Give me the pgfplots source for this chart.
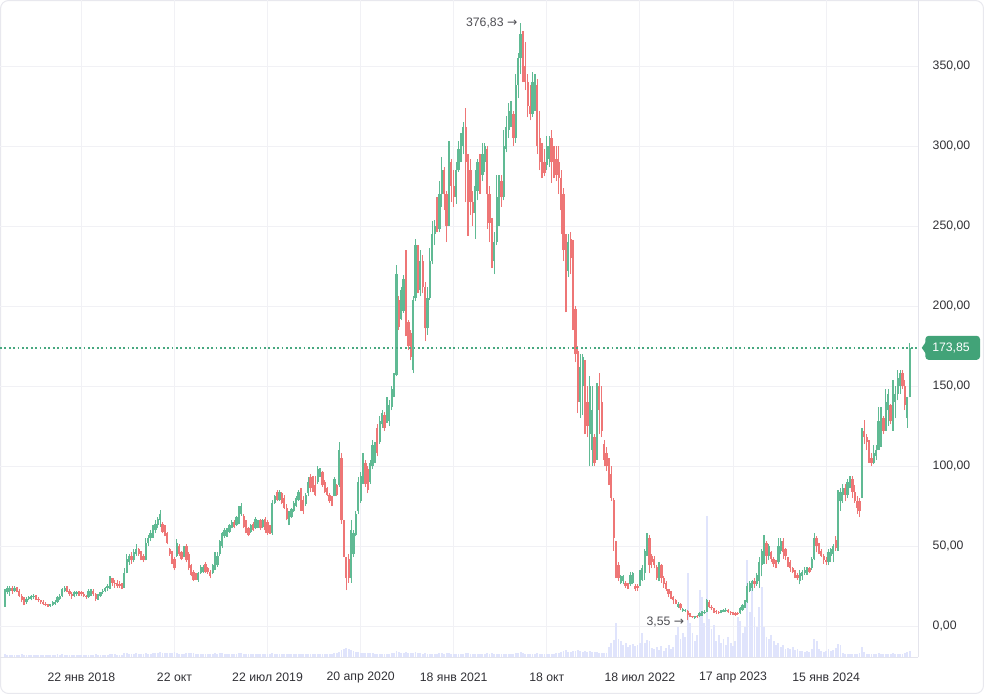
\documentclass[border=0pt]{standalone}
\usepackage{fontspec}
\setmainfont{Liberation Sans}
\newfontfamily\dejavu{DejaVu Sans}
\usepackage{pgfplots}
\usepackage{pgfplotstable}
\pgfplotsset{compat=1.18}
\definecolor{cg}{RGB}{96,186,148}
\definecolor{cr}{RGB}{238,118,118}
\definecolor{dotc}{RGB}{72,168,128}
\definecolor{gridc}{RGB}{241,241,245}
\definecolor{axc}{RGB}{228,228,236}
\definecolor{volc}{RGB}{224,228,252}
\definecolor{boxg}{RGB}{66,163,120}
\definecolor{txt}{RGB}{50,50,55}
\definecolor{annot}{RGB}{80,80,85}
\definecolor{frame}{RGB}{232,232,238}

\pgfplotstableread{
w o h l c v
0 12.5 23 12 22 3
1 21 25 20 24 2
2 22 25 19 24 2
3 24 25 20 22 2
4 22 25 21 24 2
5 24 24.5 21 22 2
6 22 23 18 19 2
7 19 20 15 16 3
8 17 18 13 15 2
9 15 18 14 17 2
10 17 19 16 18 2
11 17 19.5 16 19 2
12 18 20 17 19 2
13 19 19.5 16 17 2
14 17 18 15 16 2
15 16 16.5 14 15 2
16 15 16 13 14 2
17 14 15 12.5 13.5 2
18 13.5 14 12 13 2
19 12.5 14 12 13.5 2
20 13 15.5 12.5 15 2
21 14 16 13 15 2
22 15 19 14.5 18 3
23 17 20 16 19 2
24 19 24 18 23 3
25 22 25 21 24 2
26 24 25 21 22 2
27 22 23 19 20 2
28 20 21 17 19 2
29 19 22 18 21 2
30 20 22 19 21 2
31 21 22 19 20 2
32 21 22 19 20 2
33 20 21 18 19 2
34 19 19.5 17 18 2
35 18 23 17.5 22 2
36 21 23 19 22 2
37 22 23 19 20 2
38 20 20.5 15.5 17 3
39 17 20 16.5 19 2
40 19 21.5 18 21 2
41 21 23 20 22 2
42 22 24.5 21 24 2
43 24 26 22 25 2
44 24 31 23 30 3
45 30 30 25 27 3
46 27 29 24 26 3
47 27 29 24 25 2
48 26 28 24 25 2
49 26 27 23 24 2
50 24 36 24 33 4
51 33 45 33 42 4
52 40 45 38 44 3
53 44 46 39 41 3
54 41 48 40 46 3
55 45 51 44 48 4
56 48 49 44 45 3
57 46 47 41 43 3
58 44 45 40 41 3
59 41 55 41 52 4
60 52 57 50 55 3
61 55 60 53 58 3
62 57 63 55 61 4
63 60 66 58 64 4
64 63 68 61 67 4
65 66 72.5 62 70 5
66 64 65 58 59 4
67 62 63 56 57 4
68 58 59 51 52 4
69 48 49 44 45 4
70 46 47 39 40 4
71 42 43 35 36 5
72 44 54.5 43 52 4
73 50 51 44 45 3
74 46 47 41 42 3
75 44 50 43 49 3
76 50 51 40 41 4
77 45 46 35 36 4
78 38 39 31 32 4
79 34 35 28 29 4
80 32 33 28.5 30 3
81 29 34 27.7 33 3
82 33 38 32.5 37 3
83 34 38 33 37 3
84 39 40 33 34 3
85 36 37 32.5 33.5 3
86 34 35 29.8 31 3
87 33 39 32.5 38 3
88 36 46 35 45 4
89 38 46 37 44 3
90 45 54 44 53 4
91 50 59 49 58 4
92 56 61 55 60 3
93 56 61 55.5 60 3
94 59 64 58 63 3
95 61 66 61 65 3
96 65 66 61 62 3
97 63 69 62.5 68 3
98 64 75 63.5 73 4
99 70 77 69 75 4
100 69 70 61 62 3
101 65 66 58 59 3
102 61 62 56 57 3
103 59 64 58 63 3
104 64 65 59.5 60 3
105 61 68 60.5 67 3
106 62 66 61 65 3
107 66 67 60 61 3
108 62 67 61 66 3
109 67 68 58 60 3
110 65 66 57 58 3
111 62 63 57.5 58 3
112 58 79 57 77 4
113 77 82 76.5 81 3
114 84 85 78 79 3
115 79 85 78 84 3
116 83 84 76 77 3
117 80 82 73 74 3
118 74 76 66 67 3
119 64 72 63 71 3
120 68 74 67.5 73 3
121 72 78 71.5 77 3
122 75 81 74.6 80 3
123 79 85 78 84 3
124 84 86 72 74 3
125 79 81 70 72 3
126 76 83 75 82 3
127 83 93 81 90 3
128 93 95 84 86 3
129 92 94 84 86 3
130 88 94 81 82 3
131 90 100 89 98 3
132 94 98.5 93 97 3
133 96 97 87 88 3
134 90 91 83 84 3
135 86 87 81 82 3
136 82 83 77 78 3
137 80 81 75 76 3
138 81 93 81 92 4
139 88 89 81 82 4
140 88 115 87 110 5
141 105 108 64 66 7
142 66 66 43 45 8
143 43 43 22.5 30 9
144 42 45 27 30 8
145 30 66 27 60 7
146 45 60 43 58 6
147 57 72 56 70 5
148 72 93 70 90 5
149 78 96 77 94 4
150 90 108 89 106 4
151 102 104 87 89 4
152 98 100 83 85 4
153 90 104 89 102 4
154 100 116 98 113 4
155 104 115 102 112 3
156 124 126 106 108 3
157 115 131 114 128 3
158 126 135 124 133 3
159 132 134 122 124 3
160 128 143 127 140 3
161 128 141 125 138 3
162 137 150 135 148 4
163 145 158 143 157 4
164 157 225.6 156 220 6
165 204 206 185 187 5
166 192 212 191 210 4
167 197 219.5 195.7 217 4
168 218 235 181 183 5
169 190 191 172.5 175 4
170 183 185 166 168 4
171 160 206 158 204 4
172 205 242 203 238 5
173 236 238 208 212 4
174 210 235 206 228 4
175 228 232 208 212 3
176 212 215 178 186 4
177 186 212 182 205 3
178 205 236 204 228 3
179 228 253 226 245 3
180 245 254 238 250 3
181 252 268 246 248 3
182 248 278 246 270 4
183 270 293 262 285 4
184 285 287 260 270 3
185 270 272 240 250 4
186 252 303 250 290 4
187 290 292 265 275 3
188 275 285 262 268 3
189 268 290 264 285 3
190 285 303 284 298 3
191 298 308 290 305 3
192 300 315 295 312 3
193 312 324 265 290 4
194 290 295 244 260 4
195 285 292 257 265 3
196 265 272 250 258 3
197 258 285 242 275 3
198 272 292 266 290 3
199 290 295 270 282 3
200 282 302 278 295 3
201 290 302 284 300 3
202 298 300 248 270 4
203 270 275 240 252 3
204 252 255 224 230 4
205 228 246 220 240 3
206 240 282 238 268 3
207 265 282 250 278 3
208 278 282 262 268 3
209 268 310 266 300 3
210 298 319 296 312 3
211 310 327 305 322 3
212 318 328 312 325 3
213 320 322 300 305 3
214 305 345 302 338 4
215 338 358 330 355 4
216 355 376.83 345 370 5
217 370 372 340 350 4
218 350 365 335 340 3
219 340 345 318 325 3
220 325 338 316 320 3
221 320 346 318 340 3
222 330 345 322 338 3
223 338 342 295 300 4
224 305 322 285 290 3
225 298 302 280 285 3
226 290 298 281 283 3
227 288 306 285 300 3
228 292 306 287 300 3
229 305 310 277 290 3
230 295 300 280 285 3
231 292 300 278 282 4
232 290 300 270 280 4
233 280 285 245 260 5
234 270 274 228 235 6
235 240 245 196 226 7
236 222 245 218 240 5
237 242 246 220 230 5
238 238 241 185 195 6
239 198 200 165 170 6
240 172 175 133 140 7
241 140 170 130 162 6
242 150 170 132 168 5
243 165 166 120 130 6
244 140 150 118 125 5
245 120 156 100 150 6
246 110 150 100 135 5
247 118 120 100 102 5
248 105 152 104 145 5
249 150 158 120 135 4
250 140 150 118 122 4
251 114 116 100 104 4
252 108 112 97 100 4
253 102 105 88 92 10
254 95 100 78 80 14
255 79 80 47 55 17
256 52 53 30 35 34
257 38 40 28 30 18
258 27 32 26 31 16
259 28 32 26 31 12
260 27 28 24 25 14
261 26 27 23 24 10
262 26 34 25 32 12
263 27 34 26 33 13
264 25 26 22 23 11
265 25 26 22 24 12
266 26 35 25 32 14
267 29 38 28 36 24
268 33 48 29 47 14
269 45 58 44 54 17
270 55 57 33 38 16
271 44 45 36 40 9
272 42 44 36 38 8
273 37 38 29 30 10
274 30 40 28 38 7
275 38 39 27 30 11
276 30 31 24 26 6
277 27 28 22 23 9
278 23 23 18 20 12
279 21 22 17 18 8
280 18 19 14 16 10
281 16 17 13.5 14 22
282 12 15 11 14 30
283 14 14.5 10 11 18
284 9.5 11 9 10.5 24
285 9.5 10.5 9 10 20
286 9.5 10 3.55 7 84
287 7.5 8 5.5 6 34
288 6 6.5 5 5.5 24
289 5 6.5 4.5 6 16
290 6.5 7 5 5.5 22
291 6 8.5 5.5 8 67
292 7 9.5 6.5 9 60
293 8 10 7.5 9 34
294 9 17 8.5 16 141
295 15 16 11 12 38
296 12 13 10 11 28
297 11 11.5 8 9 32
298 9.5 10 7.5 8.5 16
299 9 9.5 7.5 8 22
300 8.5 10 8 9.5 14
301 9 10.5 8.5 10 18
302 9.5 11 9 10 12
303 10 10.5 8 8.5 20
304 9 9.5 7 8 14
305 8.5 9 7 7.5 11
306 8 8.5 6.5 7 16
307 8 9 7 7.5 40
308 8 12 7.5 11 36
309 10 14 9.5 13 24
310 12 16 11 15 30
311 15 27 14.5 25 97
312 22 28 21 27 45
313 24 29 22 28 74
314 28 30 24 26 40
315 26 33 25 32 30
316 28 43 24 40 50
317 38 48 31 47 70
318 44 57 39 54 30
319 52 53 39 44 20
320 44 51 41 50 18
321 46 47 40 42 22
322 42 43 37 39 16
323 40 41 36 38 12
324 40 55 39 50 14
325 47 55 45 53 10
326 53 55 42 46 12
327 48 49 41 44 8
328 42 43 37 40 9
329 40 41 34 36 8
330 36 37 33 34 10
331 34 35 30 32 7
332 32 33 29 30 8
333 28 35 26 33 6
334 31 35 29 34 6
335 33 37 32 35 5
336 34 37 32 36 6
337 36 37 33 34 5
338 36 43 35 42 8
339 42 58 41 55 18
340 55 56 46 50 16
341 50 52 45 47 8
342 47 48 43 44 6
343 44 45 39 41 5
344 41 43 38 40 6
345 40 48 38 46 8
346 44 49 40 48 6
347 45 51 40 50 7
348 54 56 47 49 9
349 48 85 47 78 13
350 78 86 72 84 12
351 82 89 77 86 4
352 86 89 78 82 3
353 82 92 80 90 3
354 88 94 86 92 3
355 92 94 80 84 3
356 84 88 77 78 3
357 78 81 70 74 3
358 78 80 68 72 4
359 81 124 80 120 10
360 122 129 114 118 5
361 118 120 110 115 3
362 115 116 102 105 3
363 105 108 100 102 3
364 102 113 101 108 3
365 106 113 104 110 3
366 110 137 110 128 4
367 120 137 112 130 3
368 130 131 120 122 3
369 122 148 122 140 3
370 135 148 125 145 3
371 138 139 126 128 3
372 128 154 122 150 4
373 140 150 130 145 3
374 145 160 141 155 3
375 150 160 145 158 3
376 158 160 148 150 3
377 150 154 135 138 4
378 130 143 124 143 5
379 143 177 143 173.85 6
}\data

\begin{document}
\begin{tikzpicture}
\useasboundingbox (0,0) rectangle (738pt,520.5pt);
\fill[white] (0,0) rectangle (738pt,520.5pt);
\draw[frame, line width=0.75pt, rounded corners=6pt] (0.4pt,0.4pt) rectangle (737.6pt,520.1pt);
\begin{axis}[
  at={(0pt,27.75pt)}, anchor=south west,
  width=688.5pt, height=492.75pt, scale only axis,
  xmin=-2.09, xmax=382.5, ymin=-19.375, ymax=391.25,
  clip=false,
  axis line style={draw=none},
  major tick length=0pt,
  xtick={32,71,110,149,188,227,266,305,344},
  xticklabels={22 янв 2018,22 окт,22 июл 2019,20 апр 2020,18 янв 2021,18 окт,18 июл 2022,17 апр 2023,15 янв 2024},
  ytick={0,50,...,350},
  yticklabels={{0,00},{50,00},{100,00},{150,00},{200,00},{250,00},{300,00},{350,00}},
  yticklabel pos=right,
  ticklabel style={font=\fontsize{9.2}{11}\selectfont, text=txt},
  yticklabel style={anchor=west, xshift=7.5pt},
  xticklabel style={anchor=center, yshift=-15pt},
  grid=major,
  major grid style={draw=gridc, line width=0.75pt},
]
\draw[axc, line width=0.75pt] (rel axis cs:0,0) -- (rel axis cs:1,0);
\draw[axc, line width=0.75pt] (rel axis cs:1,0) -- (rel axis cs:1,1);

% volume
\addplot[draw=none, forget plot,
  error bars/.cd, y dir=plus, y explicit, error mark=none,
  error bar style={draw=volc, line width=1.4pt, solid}]
  table[x=w, y expr=-19.375, y error plus expr=\thisrow{v}/1.6] {\data};

% green wicks and bodies
\addplot[draw=none, forget plot, unbounded coords=discard,
  error bars/.cd, y dir=plus, y explicit, error mark=none,
  error bar style={draw=cg, line width=0.9pt, solid}]
  table[x expr={\thisrow{c}>=\thisrow{o} ? \thisrow{w} : nan}, y=l, y error plus expr=\thisrow{h}-\thisrow{l}] {\data};
\addplot[draw=none, forget plot, unbounded coords=discard,
  error bars/.cd, y dir=plus, y explicit, error mark=none,
  error bar style={draw=cg, line width=1.7pt, solid}]
  table[x expr={\thisrow{c}>=\thisrow{o} ? \thisrow{w} : nan}, y expr={min(\thisrow{o},\thisrow{c})}, y error plus expr={abs(\thisrow{c}-\thisrow{o})}] {\data};

% red wicks and bodies
\addplot[draw=none, forget plot, unbounded coords=discard,
  error bars/.cd, y dir=plus, y explicit, error mark=none,
  error bar style={draw=cr, line width=0.9pt, solid}]
  table[x expr={\thisrow{c}<\thisrow{o} ? \thisrow{w} : nan}, y=l, y error plus expr=\thisrow{h}-\thisrow{l}] {\data};
\addplot[draw=none, forget plot, unbounded coords=discard,
  error bars/.cd, y dir=plus, y explicit, error mark=none,
  error bar style={draw=cr, line width=1.7pt, solid}]
  table[x expr={\thisrow{c}<\thisrow{o} ? \thisrow{w} : nan}, y expr={min(\thisrow{o},\thisrow{c})}, y error plus expr={abs(\thisrow{c}-\thisrow{o})}] {\data};

% last price line
\draw[dotc, line width=1pt, dash pattern=on 1.3pt off 2pt] (axis cs:-2.09,173.85) -- (axis cs:382.5,173.85);

% price tag
\fill[boxg, rounded corners=2.5pt] ([xshift=5.5pt,yshift=-9pt]axis cs:382.5,173.85) rectangle ([xshift=46.5pt,yshift=9pt]axis cs:382.5,173.85);
\fill[boxg] ([xshift=2.8pt]axis cs:382.5,173.85) -- ([xshift=7pt,yshift=6pt]axis cs:382.5,173.85) -- ([xshift=7pt,yshift=-6pt]axis cs:382.5,173.85) -- cycle;
\node[anchor=west, inner sep=0pt, text=white, font=\fontsize{9.2}{11}\selectfont] at ([xshift=10.5pt]axis cs:382.5,173.85) {173,85};

% annotations
\node[anchor=east, inner sep=1pt, text=annot, font=\fontsize{9.2}{11}\selectfont] at (axis cs:215.3,376.83) {376,83 {\dejavu →}};
\node[anchor=east, inner sep=1pt, text=annot, font=\fontsize{9.2}{11}\selectfont] at (axis cs:285.2,2.6) {3,55 {\dejavu →}};
\end{axis}
\end{tikzpicture}
\end{document}
